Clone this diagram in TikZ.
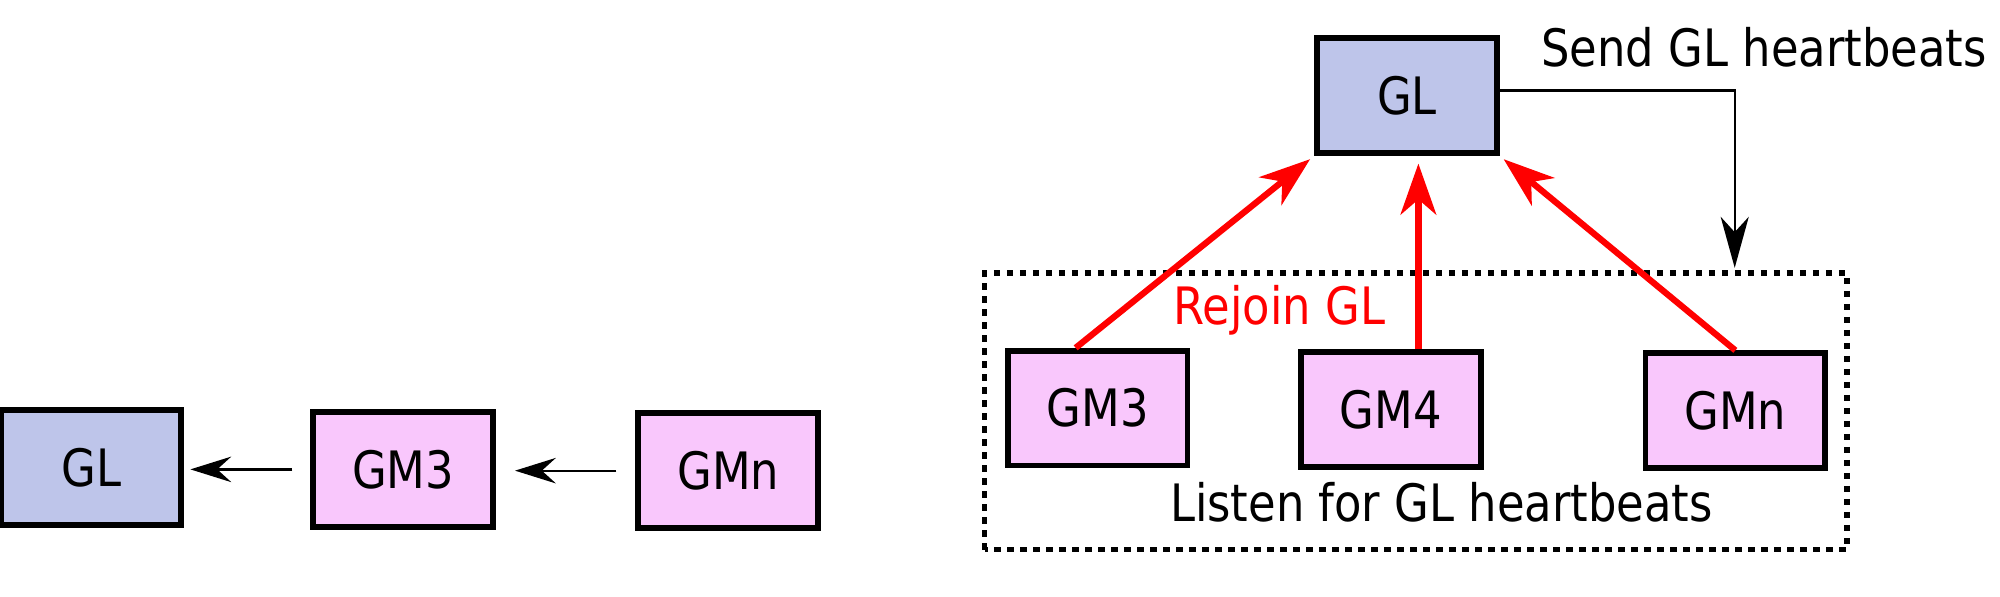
\documentclass[tikz,border=0pt]{standalone}
\usepackage{fontspec}
\setmainfont{DejaVu Sans}[FakeStretch=0.87]
\usetikzlibrary{arrows.meta}
\definecolor{leaderblue}{HTML}{BEC5EA}
\definecolor{memberpink}{HTML}{F9C7FC}
\begin{document}
\begin{tikzpicture}
	[every node/.style={font=\fontsize{11.5}{13}\selectfont},
	box/.style={draw,line width=1.3pt,minimum width=1.41cm,minimum height=0.9cm,inner sep=0pt},
	leader/.style={box,fill=leaderblue},
	member/.style={box,fill=memberpink},
	chain/.style={line width=0.5pt,-{Stealth[length=0.32cm,width=0.2cm,inset=0.11cm]}},
	beat/.style={line width=0.5pt,-{Stealth[length=0.4cm,width=0.22cm,inset=0.12cm]}},
	rejoin/.style={red,line width=1.4pt,-{Stealth[length=0.4cm,width=0.28cm,inset=0.12cm]}},
	group/.style={line width=1.2pt,dash pattern=on 1.4pt off 1.5pt}]
	\useasboundingbox (0,0) rectangle (15.68,4.68);
	% left: chain of members
	\node [leader] (gl) at (0.715,1.015) {GL};
	\node [member] (gm3) at (3.16,1.00) {GM3};
	\node [member] (gmn) at (5.71,0.99) {GMn};
	\draw [chain,shorten <=0.14cm,shorten >=0.05cm] (gm3.west) -- (gm3.west -| gl.east);
	\draw [chain,shorten <=0.15cm,shorten >=0.15cm] (gmn.west) -- (gmn.west -| gm3.east);
	% right: leader and group
	\node [leader] (gl2) at (11.03,3.93) {GL};
	\node (send) at (13.83,4.31) {Send GL heartbeats};
	\coordinate (hb) at (13.60,2.58);
	\draw [beat] ([yshift=0.04cm]gl2.east) -| (hb);
	\draw [group] (7.72,0.37) rectangle (14.48,2.54);
	\node [member] (r3) at (8.605,1.48) {GM3};
	\node [member] (r4) at (10.905,1.47) {GM4};
	\node [member] (rn) at (13.605,1.46) {GMn};
	\node [text=red] (rejoin) at (10.03,2.25) {Rejoin GL};
	\node (listen) at (11.30,0.74) {Listen for GL heartbeats};
	\draw [rejoin,shorten >=0.04cm] (r3.110) -- (gl2.south west);
	\draw [rejoin,shorten >=0.06cm] ([xshift=0.09cm]gl2.south |- r4.north) -- ([xshift=0.09cm]gl2.south);
	\draw [rejoin,shorten >=0.04cm] (rn.north) -- (gl2.south east);
\end{tikzpicture}
\end{document}
